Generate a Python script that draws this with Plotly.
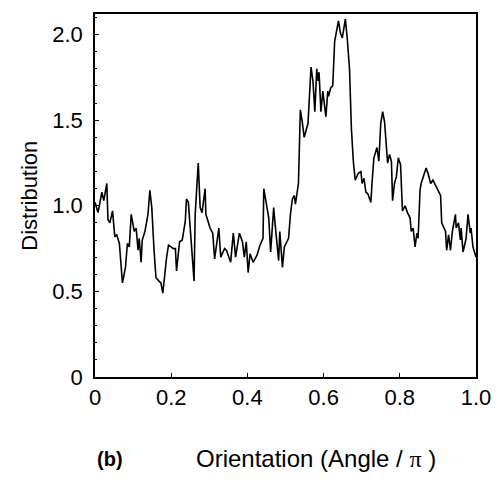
import plotly.graph_objects as go

angle = [0.000, 0.008, 0.018, 0.023, 0.031, 0.034, 0.039, 0.046, 0.052, 0.057,
         0.064, 0.072, 0.080, 0.085, 0.090, 0.095, 0.103, 0.108, 0.113, 0.116,
         0.121, 0.124, 0.131, 0.139, 0.144, 0.149, 0.155, 0.160, 0.168, 0.173,
         0.178, 0.183, 0.188, 0.193, 0.206, 0.211, 0.214, 0.222, 0.229, 0.237,
         0.240, 0.245, 0.253, 0.260, 0.263, 0.271, 0.276, 0.281, 0.289, 0.291,
         0.302, 0.309, 0.314, 0.325, 0.330, 0.340, 0.345, 0.356, 0.363, 0.369,
         0.379, 0.387, 0.392, 0.397, 0.402, 0.407, 0.415, 0.425, 0.433, 0.441,
         0.443, 0.451, 0.456, 0.461, 0.469, 0.472, 0.477, 0.482, 0.485, 0.490,
         0.492, 0.497, 0.508, 0.513, 0.518, 0.523, 0.526, 0.534, 0.536, 0.539,
         0.544, 0.549, 0.559, 0.562, 0.567, 0.572, 0.575, 0.577, 0.582, 0.585,
         0.588, 0.593, 0.598, 0.601, 0.606, 0.611, 0.613, 0.619, 0.624, 0.629,
         0.634, 0.639, 0.644, 0.649, 0.652, 0.657, 0.662, 0.668, 0.673, 0.678,
         0.683, 0.691, 0.698, 0.701, 0.706, 0.711, 0.716, 0.724, 0.727, 0.732,
         0.740, 0.745, 0.750, 0.755, 0.760, 0.765, 0.768, 0.773, 0.778, 0.781,
         0.786, 0.791, 0.796, 0.802, 0.804, 0.807, 0.814, 0.820, 0.827, 0.830,
         0.835, 0.840, 0.845, 0.848, 0.851, 0.853, 0.856, 0.861, 0.869, 0.874,
         0.881, 0.887, 0.894, 0.899, 0.907, 0.910, 0.920, 0.923, 0.928, 0.933,
         0.938, 0.946, 0.948, 0.954, 0.959, 0.961, 0.966, 0.974, 0.979, 0.985,
         0.987, 0.992, 1.000]

distribution = [1.02, 0.96, 1.08, 1.03, 1.13, 0.92, 0.90, 0.97, 0.82, 0.83,
                0.78, 0.55, 0.64, 0.78, 0.76, 0.95, 0.85, 0.87, 0.74, 0.81,
                0.67, 0.80, 0.85, 0.95, 1.09, 0.99, 0.74, 0.58, 0.56, 0.55,
                0.49, 0.60, 0.70, 0.77, 0.75, 0.75, 0.62, 0.79, 0.80, 0.91,
                1.04, 1.02, 0.80, 0.56, 0.95, 1.25, 0.99, 0.96, 1.10, 0.95,
                0.87, 0.84, 0.69, 0.87, 0.70, 0.75, 0.74, 0.67, 0.84, 0.70,
                0.84, 0.79, 0.70, 0.79, 0.61, 0.72, 0.67, 0.71, 0.77, 0.81,
                1.10, 1.00, 0.93, 0.73, 0.99, 0.91, 0.80, 0.68, 0.85, 0.70,
                0.64, 0.76, 0.81, 0.95, 1.04, 1.06, 1.01, 1.13, 1.32, 1.56,
                1.49, 1.40, 1.48, 1.61, 1.81, 1.73, 1.63, 1.55, 1.80, 1.73,
                1.78, 1.55, 1.67, 1.61, 1.52, 1.67, 1.64, 1.69, 1.70, 1.96,
                2.02, 2.08, 2.01, 1.98, 2.02, 2.09, 1.98, 1.80, 1.45, 1.26,
                1.15, 1.19, 1.20, 1.13, 1.16, 1.08, 1.07, 1.02, 1.13, 1.28,
                1.34, 1.26, 1.48, 1.55, 1.49, 1.36, 1.25, 1.30, 1.26, 1.03,
                1.13, 1.17, 1.28, 1.24, 1.07, 0.97, 1.00, 0.96, 0.93, 0.85,
                0.87, 0.76, 0.84, 0.81, 0.97, 1.09, 1.13, 1.16, 1.22, 1.19,
                1.13, 1.15, 1.12, 1.09, 1.06, 0.90, 0.85, 0.74, 0.83, 0.74,
                0.85, 0.95, 0.87, 0.90, 0.80, 0.87, 0.73, 0.81, 0.95, 0.84,
                0.87, 0.76, 0.70]

x_ticks = [0, 0.2, 0.4, 0.6, 0.8, 1.0]
x_tick_labels = ["0", "0.2", "0.4", "0.6", "0.8", "1.0"]
y_ticks = [0, 0.5, 1.0, 1.5, 2.0]
y_tick_labels = ["0", "0.5", "1.0", "1.5", "2.0"]

FONT = "Liberation Sans, Arial, sans-serif"

fig = go.Figure()
fig.add_trace(go.Scatter(x=angle, y=distribution, mode="lines",
                         line=dict(color="black", width=1.6),
                         showlegend=False, hoverinfo="skip"))

axis_common = dict(showgrid=False, zeroline=False, showline=True,
                   linecolor="black", linewidth=1.5, mirror=True,
                   ticks="inside", ticklen=4, tickwidth=1, tickcolor="black",
                   tickfont=dict(family=FONT, size=22, color="black"))

pw = 503 - 95 - 20
ph = 485 - 12 - 108

fig.update_layout(
    width=503, height=485,
    margin=dict(l=95, r=20, t=12, b=108),
    paper_bgcolor="white", plot_bgcolor="white",
    xaxis=dict(range=[0, 1.0], tickvals=x_ticks, ticktext=x_tick_labels, **axis_common),
    yaxis=dict(range=[0, 2.12], tickvals=y_ticks, ticktext=y_tick_labels,
               ticklabelstandoff=6,
               minor=dict(ticks="inside", ticklen=2, dtick=0.1, tickcolor="black"),
               **axis_common),
    annotations=[
        dict(text="Orientation (Angle / <span style='font-family:Liberation Serif'>π</span> )",
             x=(320 - 95) / pw, y=(377 - 459) / ph, xref="paper", yref="paper",
             xanchor="center", yanchor="middle",
             showarrow=False, font=dict(family=FONT, size=24, color="black")),
        dict(text="<b>(b)</b>", x=(110 - 95) / pw, y=(377 - 459) / ph, xref="paper", yref="paper",
             xanchor="center", yanchor="middle",
             showarrow=False, font=dict(family=FONT, size=20, color="black")),
        dict(text="Distribution", x=(28 - 95) / pw, y=0.5, xref="paper", yref="paper",
             xanchor="center", yanchor="middle", textangle=-90,
             showarrow=False, font=dict(family=FONT, size=22, color="black")),
    ],
)

fig.write_html("out.html")
